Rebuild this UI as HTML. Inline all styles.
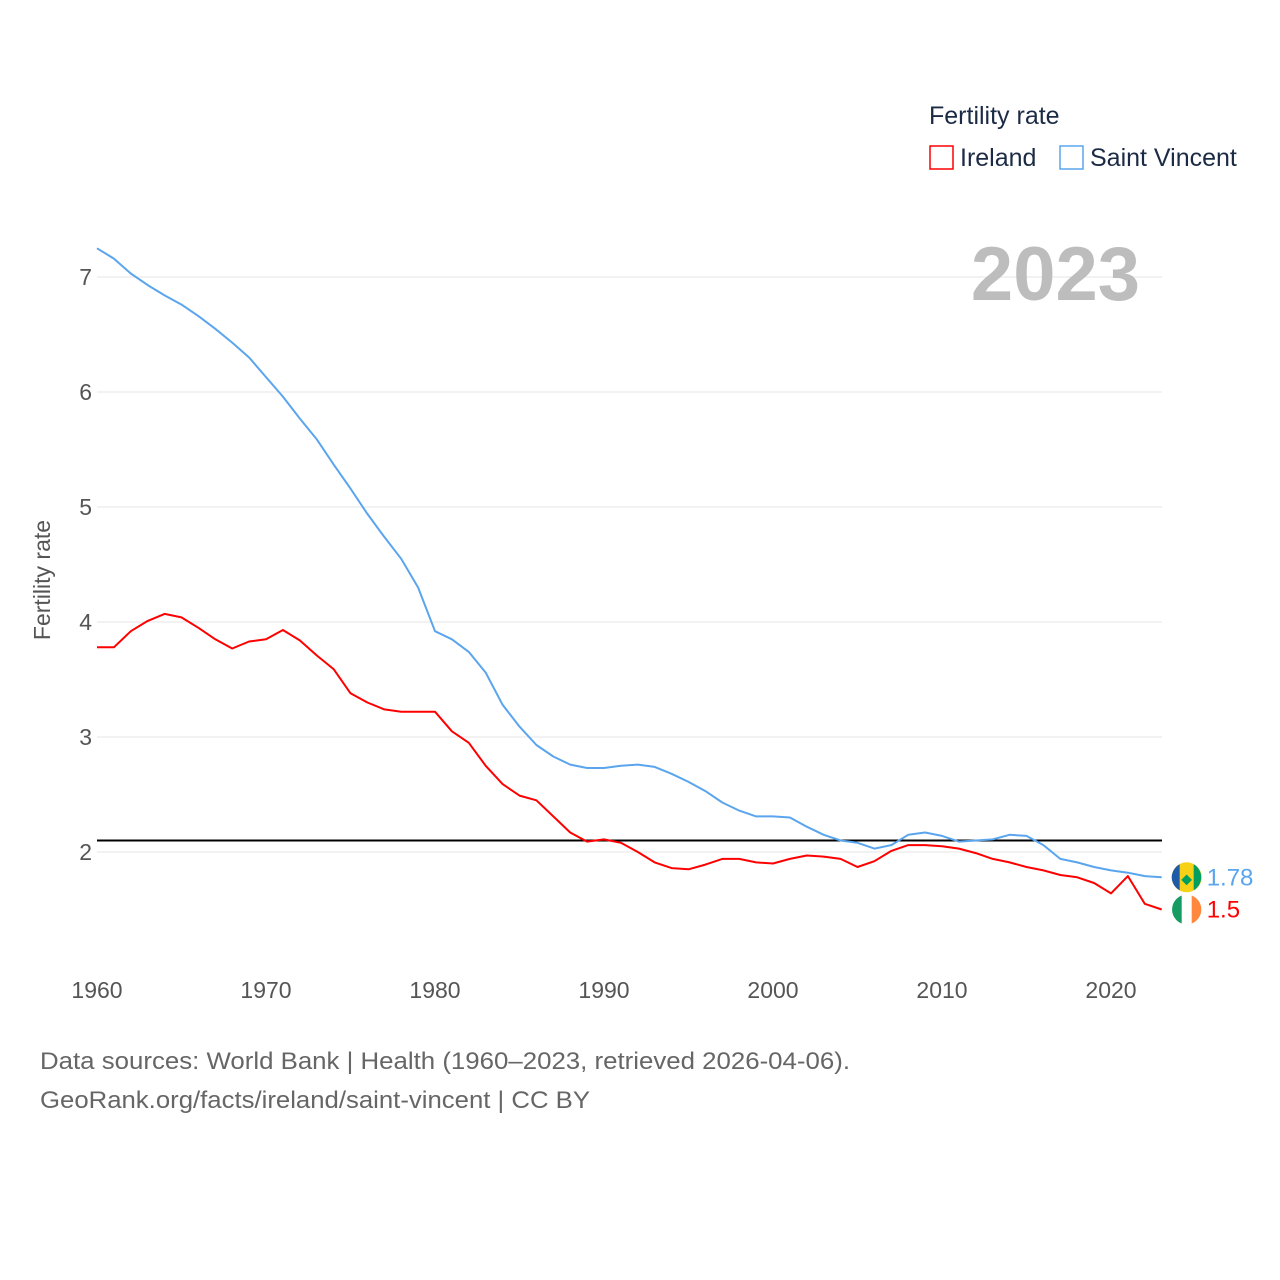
<!DOCTYPE html>
<html><head><meta charset="utf-8"><style>
html,body{margin:0;padding:0;background:#fff;}
svg{display:block;font-family:"Liberation Sans",sans-serif;}
</style></head><body>
<svg id="chart" width="1280" height="1280" viewBox="0 0 1280 1280">
<g id="grid"></g>
<g id="yticks"></g>
<g id="xticks"></g>
<text x="50" y="580" transform="rotate(-90 50 580)" text-anchor="middle" font-size="23" fill="#555">Fertility rate</text>
<text x="1140" y="300" text-anchor="end" font-size="76" font-weight="bold" fill="#bdbdbd">2023</text>
<g>
<text x="929" y="124" font-size="25" fill="#1c2b45">Fertility rate</text>
<g><rect x="930" y="146" width="23" height="23" fill="none" stroke="#f00" stroke-width="1.5"/><text x="960" y="166" font-size="25" fill="#1c2b45">Ireland</text></g>
<g><rect x="1060" y="146" width="23" height="23" fill="none" stroke="#5aa5ee" stroke-width="1.5"/><text x="1090" y="166" font-size="25" fill="#1c2b45">Saint Vincent</text></g>
</g>
<g id="series"></g>
<text x="40" y="1069" font-size="24" fill="#666" textLength="810" lengthAdjust="spacingAndGlyphs">Data sources: World Bank | Health (1960–2023, retrieved 2026-04-06).</text>
<text x="40" y="1108" font-size="24" fill="#666" textLength="550" lengthAdjust="spacingAndGlyphs">GeoRank.org/facts/ireland/saint-vincent | CC BY</text>
</svg>
<script>
const years = [];
for (let y = 1960; y <= 2023; y++) years.push(y);
const ireland = [3.78,3.78,3.92,4.01,4.07,4.04,3.95,3.85,3.77,3.83,3.85,3.93,3.84,3.71,3.59,3.38,3.30,3.24,3.22,3.22,3.22,3.05,2.95,2.75,2.59,2.49,2.45,2.31,2.17,2.09,2.11,2.08,2.00,1.91,1.86,1.85,1.89,1.94,1.94,1.91,1.90,1.94,1.97,1.96,1.94,1.87,1.92,2.01,2.06,2.06,2.05,2.03,1.99,1.94,1.91,1.87,1.84,1.80,1.78,1.73,1.64,1.79,1.55,1.50];
const saintVincent = [7.25,7.16,7.03,6.93,6.84,6.76,6.66,6.55,6.43,6.30,6.13,5.96,5.77,5.59,5.37,5.16,4.94,4.74,4.55,4.30,3.92,3.85,3.74,3.56,3.28,3.09,2.93,2.83,2.76,2.73,2.73,2.75,2.76,2.74,2.68,2.61,2.53,2.43,2.36,2.31,2.31,2.30,2.22,2.15,2.10,2.08,2.03,2.06,2.15,2.17,2.14,2.09,2.10,2.11,2.15,2.14,2.06,1.94,1.91,1.87,1.84,1.82,1.79,1.78];
const yTicks = [2,3,4,5,6,7];
const xTicks = [1960,1970,1980,1990,2000,2010,2020];
const replacementRate = 2.1;
const ns = "http://www.w3.org/2000/svg";
const X = y => 97 + (y - 1960) * (1111 - 97) / 60;
const Y = v => 852 - (v - 2) * 115;
function mk(tag, attrs, parent) { const e = document.createElementNS(ns, tag); for (const k in attrs) e.setAttribute(k, attrs[k]); parent.appendChild(e); return e; }
const grid = document.getElementById('grid'), yt = document.getElementById('yticks'), xt = document.getElementById('xticks'), ser = document.getElementById('series');
yTicks.forEach(v => {
  const l = mk('line', {x1: 97, x2: 1162, y1: Y(v), y2: Y(v), stroke: '#e6e6e6', 'stroke-width': 1}, grid);
  
  
  const t = mk('text', {x: 92, y: Y(v) + 8, 'text-anchor': 'end', 'font-size': 23, fill: '#555'}, yt);
  t.textContent = v;
  
  
});
xTicks.forEach(v => {
  const t = mk('text', {x: X(v), y: 998, 'text-anchor': 'middle', 'font-size': 23, fill: '#555'}, xt);
  t.textContent = v;
  
  
});
const rl = mk('line', {x1: 97, x2: 1162, y1: Y(replacementRate), y2: Y(replacementRate), stroke: '#000', 'stroke-width': 2}, ser);


function line(vals, color, name) {
  const d = vals.map((v, i) => (i ? 'L' : 'M') + X(years[i]).toFixed(1) + ',' + Y(v).toFixed(1)).join('');
  const p = mk('path', {d: d, fill: 'none', stroke: color, 'stroke-width': 2, 'stroke-linejoin': 'round'}, ser);
  
  
}
line(saintVincent, '#5aa5ee', 'line-saint-vincent');
line(ireland, '#f00', 'line-ireland');
function endLabel(vals, color, name, flag) {
  const v = vals[vals.length - 1], x = X(years[years.length - 1]), y = Y(v);
  const g = mk('g', {}, ser);
  
  
  const cx = x + 25;
  if (flag === 'svg') {
    mk('circle', {cx: cx, cy: y, r: 15, fill: '#f7d116'}, g);
    mk('path', {d: `M${cx-15},${y} A15,15 0 0 1 ${cx-7},${y-13} L${cx-7},${y+13} A15,15 0 0 1 ${cx-15},${y}Z`, fill: '#1e5aa8'}, g);
    mk('path', {d: `M${cx+7},${y-13} A15,15 0 0 1 ${cx+7},${y+13}Z`, fill: '#009e60'}, g);
    mk('text', {x: cx, y: y + 6, 'text-anchor': 'middle', 'font-size': 14, fill: '#009e60'}, g).textContent = '◆';
  } else {
    mk('circle', {cx: cx, cy: y, r: 15, fill: '#fff'}, g);
    mk('path', {d: `M${cx-5},${y-14} A15,15 0 0 0 ${cx-5},${y+14}Z`, fill: '#169b62'}, g);
    mk('path', {d: `M${cx+5},${y-14} A15,15 0 0 1 ${cx+5},${y+14}Z`, fill: '#ff883e'}, g);
  }
  const t = mk('text', {x: cx + 20, y: y + 8, 'font-size': 24, fill: color}, g);
  t.textContent = v;
}
endLabel(saintVincent, '#5aa5ee', 'end-label-saint-vincent', 'svg');
endLabel(ireland, '#f00', 'end-label-ireland', 'ie');
</script>
</body></html>
